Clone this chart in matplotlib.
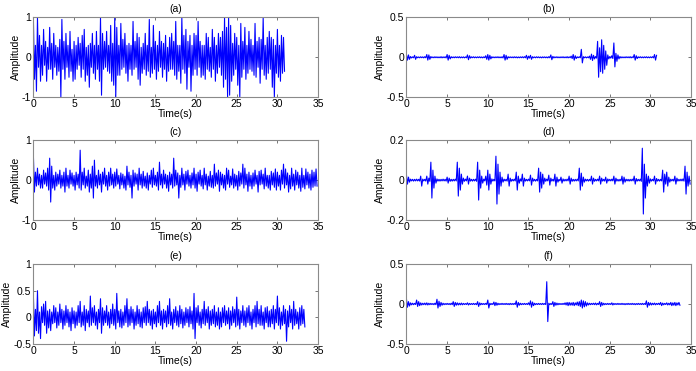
import numpy as np
import matplotlib
matplotlib.use("Agg")
import matplotlib.pyplot as plt

plt.rcParams['font.family'] = ['Liberation Sans', 'DejaVu Sans']

FS = 8  # samples per second of the hand-read peak values

# (a) peak values read every 1/8 s, one row per second
sig_a = [
    [0.95, -0.55, 0.3, -0.85, 1.0, -0.25, 0.55, -0.6],
    [0.3, -0.45, 0.7, -0.2, 0.4, -0.6, 0.25, -0.3],
    [0.75, -0.3, 0.35, -0.55, 0.6, -0.25, 0.3, -0.45],
    [0.25, -0.35, 0.45, -1.0, 0.95, -0.3, 0.4, -0.55],
    [0.6, -0.25, 0.3, -0.5, 0.65, -0.35, 0.2, -0.6],
    [0.4, -0.55, 0.3, -0.3, 0.5, -0.2, 0.35, -0.5],
    [0.55, -0.3, 0.7, -0.6, 0.25, -0.45, 0.3, -0.75],
    [0.35, -0.25, 0.6, -0.4, 0.3, -0.55, 0.65, -0.3],
    [0.3, -0.6, 1.0, -0.95, 0.6, -0.3, 0.4, -0.25],
    [0.65, -0.35, 0.3, -0.4, 0.8, -0.6, 0.35, -0.7],
    [1.0, -1.0, 0.75, -0.45, 0.3, -0.45, 0.85, -0.3],
    [0.45, -0.25, 0.6, -0.4, 0.3, -0.6, 0.35, -0.3],
    [0.3, -0.45, 0.9, -0.3, 0.4, -0.25, 0.6, -0.55],
    [0.5, -0.7, 0.25, -0.4, 0.35, -0.3, 0.6, -0.45],
    [0.3, -0.35, 0.95, -0.5, 0.25, -0.4, 0.8, -0.3],
    [0.4, -0.55, 0.3, -0.35, 0.65, -0.25, 0.4, -0.5],
    [0.35, -0.3, 0.55, -0.6, 0.25, -0.35, 0.5, -0.3],
    [0.6, -0.3, 0.4, -0.45, 0.9, -0.55, 0.3, -0.35],
    [0.3, -0.65, 1.0, -0.3, 0.55, -0.4, 0.7, -0.8],
    [0.4, -0.25, 0.55, -0.85, 0.3, -0.45, 0.6, -0.3],
    [0.55, -0.45, 0.9, -0.25, 0.4, -0.5, 0.3, -0.45],
    [0.3, -0.55, 0.6, -0.3, 0.5, -0.35, 0.25, -0.5],
    [0.7, -0.3, 0.5, -0.6, 0.3, -0.4, 0.6, -0.25],
    [0.5, -0.45, 0.65, -0.75, 1.0, -0.55, 0.75, -1.0],
    [1.0, -0.95, 0.8, -0.6, 0.35, -0.45, 0.6, -0.3],
    [0.5, -0.7, 0.3, -1.0, 0.85, -0.5, 0.4, -0.3],
    [0.75, -0.55, 0.3, -0.4, 0.65, -0.3, 0.45, -0.35],
    [0.3, -0.45, 0.85, -0.5, 0.4, -0.25, 0.5, -0.65],
    [0.45, -0.3, 1.0, -0.45, 0.3, -0.55, 0.5, -0.4],
    [0.65, -0.3, 0.5, -0.75, 0.45, -1.0, 0.3, -0.4],
    [0.7, -0.5, 0.3, -0.6, 0.55, -0.4, 0.5, -0.35],
]

sig_b = [
    [0.035, -0.035, 0.03, -0.025, 0.01, -0.008, 0.006, -0.006],
    [0.025, -0.025, 0.008, -0.006, 0.005, -0.006, 0.007, -0.005],
    [0.006, -0.007, 0.008, -0.006, 0.035, -0.035, 0.03, -0.025],
    [0.01, -0.006, 0.005, -0.006, 0.007, -0.005, 0.006, -0.006],
    [0.005, -0.006, 0.008, -0.007, 0.006, -0.005, 0.007, -0.008],
    [0.035, -0.035, 0.025, -0.02, 0.008, -0.006, 0.005, -0.006],
    [0.007, -0.005, 0.006, -0.006, 0.008, -0.007, 0.005, -0.006],
    [0.006, -0.007, 0.005, -0.006, 0.03, -0.03, 0.02, -0.01],
    [0.006, -0.005, 0.007, -0.006, 0.005, -0.006, 0.006, -0.005],
    [0.007, -0.006, 0.005, -0.007, 0.006, -0.005, 0.02, -0.025],
    [0.035, -0.035, 0.025, -0.02, 0.008, -0.006, 0.005, -0.006],
    [0.006, -0.005, 0.007, -0.006, 0.005, -0.006, 0.007, -0.008],
    [0.035, -0.035, 0.025, -0.025, 0.008, -0.006, 0.006, -0.005],
    [0.005, -0.006, 0.007, -0.005, 0.006, -0.007, 0.005, -0.006],
    [0.006, -0.005, 0.007, -0.006, 0.008, -0.006, 0.025, -0.025],
    [0.015, -0.01, 0.025, -0.025, 0.008, -0.006, 0.005, -0.006],
    [0.007, -0.005, 0.006, -0.006, 0.005, -0.007, 0.006, -0.005],
    [0.006, -0.006, 0.005, -0.007, 0.008, -0.006, 0.03, -0.03],
    [0.012, -0.008, 0.006, -0.005, 0.007, -0.006, 0.005, -0.006],
    [0.006, -0.005, 0.007, -0.006, 0.005, -0.006, 0.008, -0.007],
    [0.006, -0.005, 0.015, -0.015, 0.035, -0.035, 0.02, -0.015],
    [0.006, -0.005, 0.007, -0.006, 0.1, -0.07, 0.008, -0.006],
    [0.006, -0.007, 0.005, -0.006, 0.015, -0.025, 0.04, -0.04],
    [0.025, -0.02, 0.01, -0.01, 0.2, -0.25, 0.12, -0.18],
    [0.22, -0.2, 0.15, -0.15, 0.08, -0.1, 0.03, -0.02],
    [0.01, -0.01, 0.02, -0.015, 0.18, -0.12, 0.05, -0.05],
    [0.03, -0.02, 0.01, -0.008, 0.006, -0.006, 0.005, -0.006],
    [0.007, -0.005, 0.006, -0.006, 0.008, -0.007, 0.006, -0.005],
    [0.035, -0.035, 0.02, -0.015, 0.006, -0.005, 0.007, -0.006],
    [0.005, -0.006, 0.006, -0.005, 0.007, -0.006, 0.005, -0.006],
    [0.006, -0.005, 0.008, -0.007, 0.035, -0.035, 0.025],
]

sig_c = [
    [0.6, -0.3, 0.2, -0.15, 0.3, -0.12, 0.15, -0.2],
    [0.12, -0.2, 0.25, -0.1, 0.18, -0.15, 0.3, -0.25],
    [0.55, -0.55, 0.35, -0.2, 0.12, -0.25, 0.2, -0.15],
    [0.15, -0.1, 0.25, -0.2, 0.12, -0.15, 0.2, -0.3],
    [0.3, -0.15, 0.12, -0.2, 0.25, -0.1, 0.18, -0.15],
    [0.12, -0.25, 0.2, -0.12, 0.15, -0.2, 0.75, -0.25],
    [0.2, -0.12, 0.3, -0.2, 0.1, -0.15, 0.25, -0.3],
    [0.15, -0.2, 0.35, -0.45, 0.5, -0.15, 0.12, -0.2],
    [0.25, -0.12, 0.15, -0.3, 0.2, -0.1, 0.3, -0.15],
    [0.12, -0.25, 0.2, -0.15, 0.3, -0.12, 0.15, -0.2],
    [0.2, -0.15, 0.28, -0.1, 0.12, -0.22, 0.18, -0.12],
    [0.15, -0.2, 0.1, -0.25, 0.35, -0.12, 0.2, -0.18],
    [0.12, -0.45, 0.25, -0.15, 0.18, -0.1, 0.15, -0.25],
    [0.3, -0.12, 0.15, -0.2, 0.22, -0.15, 0.1, -0.2],
    [0.18, -0.25, 0.12, -0.1, 0.25, -0.18, 0.3, -0.12],
    [0.12, -0.15, 0.2, -0.25, 0.45, -0.12, 0.15, -0.2],
    [0.25, -0.1, 0.15, -0.2, 0.12, -0.28, 0.2, -0.12],
    [0.15, -0.2, 0.55, -0.15, 0.25, -0.12, 0.18, -0.45],
    [0.12, -0.18, 0.3, -0.12, 0.15, -0.25, 0.22, -0.1],
    [0.25, -0.15, 0.12, -0.2, 0.18, -0.12, 0.3, -0.2],
    [0.15, -0.28, 0.2, -0.1, 0.25, -0.15, 0.12, -0.22],
    [0.3, -0.12, 0.15, -0.25, 0.1, -0.15, 0.22, -0.18],
    [0.12, -0.2, 0.4, -0.15, 0.18, -0.1, 0.25, -0.28],
    [0.2, -0.12, 0.15, -0.2, 0.12, -0.25, 0.3, -0.1],
    [0.25, -0.18, 0.1, -0.12, 0.28, -0.2, 0.15, -0.15],
    [0.12, -0.25, 0.22, -0.15, 0.18, -0.1, 0.4, -0.2],
    [0.3, -0.12, 0.15, -0.28, 0.2, -0.15, 0.12, -0.22],
    [0.18, -0.15, 0.25, -0.1, 0.12, -0.3, 0.22, -0.12],
    [0.25, -0.1, 0.15, -0.22, 0.3, -0.15, 0.12, -0.2],
    [0.12, -0.25, 0.22, -0.12, 0.18, -0.18, 0.28, -0.25],
    [0.2, -0.15, 0.12, -0.25, 0.25, -0.1, 0.4, -0.2],
    [0.28, -0.12, 0.18, -0.3, 0.12, -0.22, 0.3, -0.15],
    [0.15, -0.25, 0.25, -0.12, 0.2, -0.2, 0.12, -0.28],
    [0.3, -0.18, 0.12, -0.22, 0.28, -0.12, 0.2, -0.2],
    [0.15, -0.25, 0.25, -0.18, 0.2, -0.15, 0.28, -0.15],
]

sig_d = [
    [0.025, -0.02, 0.015, -0.01, 0.005, -0.004, 0.004, -0.005],
    [0.004, -0.004, 0.005, -0.004, 0.004, -0.005, 0.02, -0.03],
    [0.005, -0.004, 0.004, -0.005, 0.02, -0.02, 0.01, -0.006],
    [0.09, -0.09, 0.05, -0.04, 0.02, -0.015, 0.006, -0.005],
    [0.004, -0.005, 0.004, -0.004, 0.005, -0.004, 0.004, -0.005],
    [0.015, -0.015, 0.01, -0.006, 0.004, -0.005, 0.004, -0.004],
    [0.005, -0.004, 0.09, -0.08, 0.06, -0.05, 0.03, -0.02],
    [0.01, -0.006, 0.005, -0.004, 0.02, -0.02, 0.01, -0.005],
    [0.004, -0.005, 0.004, -0.004, 0.005, -0.006, 0.09, -0.1],
    [0.05, -0.04, 0.02, -0.015, 0.005, -0.004, 0.02, -0.025],
    [0.05, -0.05, 0.03, -0.02, 0.006, -0.005, 0.004, -0.004],
    [0.12, -0.12, 0.08, -0.07, 0.04, -0.03, 0.015, -0.01],
    [0.005, -0.004, 0.004, -0.005, 0.03, -0.03, 0.01, -0.006],
    [0.004, -0.004, 0.005, -0.004, 0.04, -0.05, 0.02, -0.015],
    [0.006, -0.005, 0.03, -0.03, 0.01, -0.005, 0.004, -0.004],
    [0.005, -0.004, 0.025, -0.025, 0.01, -0.005, 0.004, -0.005],
    [0.004, -0.004, 0.06, -0.06, 0.04, -0.04, 0.03, -0.02],
    [0.01, -0.006, 0.005, -0.004, 0.025, -0.025, 0.01, -0.005],
    [0.004, -0.005, 0.03, -0.03, 0.015, -0.01, 0.004, -0.004],
    [0.015, -0.015, 0.006, -0.005, 0.004, -0.004, 0.005, -0.004],
    [0.02, -0.02, 0.01, -0.006, 0.004, -0.005, 0.004, -0.004],
    [0.005, -0.004, 0.06, -0.05, 0.035, -0.03, 0.015, -0.01],
    [0.005, -0.004, 0.004, -0.005, 0.004, -0.004, 0.02, -0.02],
    [0.01, -0.006, 0.004, -0.004, 0.005, -0.004, 0.02, -0.02],
    [0.01, -0.005, 0.004, -0.005, 0.015, -0.015, 0.006, -0.004],
    [0.004, -0.004, 0.005, -0.004, 0.02, -0.02, 0.01, -0.005],
    [0.004, -0.005, 0.004, -0.004, 0.02, -0.02, 0.015, -0.01],
    [0.005, -0.004, 0.004, -0.005, 0.004, -0.004, 0.005, -0.004],
    [0.02, -0.02, 0.008, -0.005, 0.004, -0.004, 0.005, -0.006],
    [0.16, -0.17, 0.08, -0.09, 0.03, -0.03, 0.02, -0.015],
    [0.006, -0.005, 0.004, -0.004, 0.02, -0.02, 0.008, -0.005],
    [0.004, -0.005, 0.004, -0.004, 0.05, -0.06, 0.03, -0.02],
    [0.04, -0.03, 0.015, -0.01, 0.005, -0.004, 0.004, -0.005],
    [0.02, -0.02, 0.01, -0.005, 0.004, -0.004, 0.005, -0.004],
    [0.006, -0.005, 0.07, -0.07, 0.04, -0.03, 0.02, -0.02],
]

sig_e = [
    [0.4, -0.35, 0.15, -0.25, 0.5, -0.3, 0.1, -0.4],
    [0.2, -0.1, 0.25, -0.15, 0.3, -0.3, 0.12, -0.2],
    [0.15, -0.25, 0.1, -0.12, 0.22, -0.1, 0.18, -0.2],
    [0.1, -0.15, 0.25, -0.1, 0.15, -0.22, 0.12, -0.15],
    [0.22, -0.1, 0.15, -0.18, 0.1, -0.25, 0.18, -0.12],
    [0.12, -0.2, 0.1, -0.15, 0.22, -0.1, 0.3, -0.18],
    [0.1, -0.15, 0.22, -0.25, 0.15, -0.1, 0.12, -0.18],
    [0.4, -0.15, 0.18, -0.1, 0.22, -0.15, 0.1, -0.22],
    [0.15, -0.1, 0.35, -0.3, 0.18, -0.15, 0.12, -0.1],
    [0.22, -0.15, 0.1, -0.2, 0.15, -0.12, 0.25, -0.15],
    [0.15, -0.22, 0.45, -0.1, 0.12, -0.18, 0.15, -0.2],
    [0.1, -0.15, 0.22, -0.1, 0.35, -0.18, 0.15, -0.15],
    [0.2, -0.1, 0.15, -0.22, 0.1, -0.15, 0.22, -0.12],
    [0.15, -0.18, 0.1, -0.2, 0.18, -0.1, 0.2, -0.15],
    [0.3, -0.1, 0.15, -0.15, 0.12, -0.22, 0.15, -0.12],
    [0.1, -0.18, 0.22, -0.1, 0.3, -0.15, 0.12, -0.22],
    [0.15, -0.1, 0.12, -0.18, 0.22, -0.12, 0.35, -0.15],
    [0.1, -0.22, 0.15, -0.1, 0.2, -0.15, 0.12, -0.18],
    [0.22, -0.12, 0.15, -0.2, 0.1, -0.15, 0.18, -0.1],
    [0.15, -0.18, 0.2, -0.12, 0.12, -0.22, 0.45, -0.4],
    [0.18, -0.1, 0.22, -0.15, 0.1, -0.2, 0.15, -0.12],
    [0.3, -0.15, 0.15, -0.1, 0.2, -0.22, 0.12, -0.15],
    [0.15, -0.12, 0.22, -0.18, 0.1, -0.15, 0.18, -0.22],
    [0.1, -0.18, 0.18, -0.1, 0.22, -0.15, 0.12, -0.12],
    [0.18, -0.22, 0.12, -0.15, 0.2, -0.1, 0.15, -0.18],
    [0.38, -0.15, 0.15, -0.22, 0.12, -0.1, 0.22, -0.15],
    [0.12, -0.18, 0.18, -0.1, 0.22, -0.15, 0.1, -0.22],
    [0.15, -0.1, 0.22, -0.18, 0.3, -0.12, 0.15, -0.15],
    [0.22, -0.15, 0.1, -0.22, 0.18, -0.1, 0.2, -0.18],
    [0.12, -0.18, 0.15, -0.12, 0.22, -0.22, 0.15, -0.1],
    [0.4, -0.15, 0.18, -0.22, 0.1, -0.15, 0.22, -0.12],
    [0.15, -0.45, 0.12, -0.18, 0.22, -0.1, 0.15, -0.22],
    [0.3, -0.15, 0.15, -0.12, 0.1, -0.22, 0.18, -0.15],
    [0.22, -0.12, 0.15, -0.18],
]

sig_f = [
    [0.06, -0.04, 0.03, -0.025, 0.015, -0.01, 0.01, -0.008],
    [0.008, -0.006, 0.05, -0.03, 0.03, -0.02, 0.015, -0.012],
    [0.01, -0.008, 0.012, -0.01, 0.015, -0.012, 0.01, -0.008],
    [0.008, -0.006, 0.006, -0.008, 0.01, -0.008, 0.06, -0.05],
    [0.035, -0.03, 0.02, -0.015, 0.01, -0.008, 0.006, -0.006],
    [0.008, -0.006, 0.006, -0.008, 0.01, -0.008, 0.03, -0.03],
    [0.02, -0.015, 0.015, -0.012, 0.01, -0.01, 0.012, -0.01],
    [0.008, -0.006, 0.006, -0.006, 0.015, -0.012, 0.008, -0.006],
    [0.006, -0.006, 0.008, -0.006, 0.006, -0.008, 0.03, -0.03],
    [0.015, -0.01, 0.008, -0.006, 0.006, -0.006, 0.008, -0.006],
    [0.05, -0.05, 0.01, -0.008, 0.006, -0.006, 0.025, -0.02],
    [0.02, -0.015, 0.01, -0.008, 0.006, -0.006, 0.008, -0.006],
    [0.006, -0.006, 0.008, -0.006, 0.006, -0.008, 0.008, -0.006],
    [0.006, -0.006, 0.008, -0.006, 0.04, -0.04, 0.02, -0.015],
    [0.01, -0.008, 0.006, -0.006, 0.008, -0.006, 0.006, -0.006],
    [0.015, -0.012, 0.04, -0.04, 0.025, -0.02, 0.01, -0.008],
    [0.006, -0.006, 0.008, -0.006, 0.006, -0.006, 0.008, -0.006],
    [0.006, -0.006, 0.28, -0.22, 0.01, -0.008, 0.006, -0.006],
    [0.03, -0.03, 0.02, -0.015, 0.012, -0.01, 0.008, -0.006],
    [0.006, -0.006, 0.008, -0.006, 0.015, -0.012, 0.02, -0.02],
    [0.02, -0.015, 0.015, -0.015, 0.02, -0.02, 0.015, -0.012],
    [0.025, -0.02, 0.03, -0.03, 0.05, -0.05, 0.04, -0.035],
    [0.03, -0.025, 0.015, -0.012, 0.01, -0.008, 0.008, -0.006],
    [0.01, -0.008, 0.012, -0.01, 0.008, -0.006, 0.03, -0.03],
    [0.02, -0.015, 0.01, -0.008, 0.006, -0.006, 0.008, -0.006],
    [0.006, -0.006, 0.015, -0.012, 0.008, -0.006, 0.006, -0.006],
    [0.008, -0.006, 0.006, -0.006, 0.008, -0.006, 0.006, -0.008],
    [0.006, -0.006, 0.008, -0.006, 0.006, -0.006, 0.008, -0.006],
    [0.006, -0.008, 0.006, -0.006, 0.008, -0.006, 0.006, -0.006],
    [0.008, -0.006, 0.006, -0.006, 0.04, -0.04, 0.02, -0.015],
    [0.015, -0.012, 0.01, -0.008, 0.012, -0.01, 0.008, -0.006],
    [0.01, -0.008, 0.02, -0.02, 0.012, -0.01, 0.008, -0.006],
    [0.015, -0.012, 0.01, -0.01, 0.02, -0.02, 0.015, -0.015],
    [0.02, -0.02, 0.015, -0.012, 0.02, -0.015],
]

titles = ["(a)", "(b)", "(c)", "(d)", "(e)", "(f)"]
signals = [sig_a, sig_b, sig_c, sig_d, sig_e, sig_f]
ylims = [(-1, 1), (-0.5, 0.5), (-1, 1), (-0.2, 0.2), (-0.5, 1), (-0.5, 0.5)]
yticks = [[-1, 0, 1], [-0.5, 0, 0.5], [-1, 0, 1], [-0.2, 0, 0.2],
          [-0.5, 0, 0.5, 1], [-0.5, 0, 0.5]]
ytick_labels = [["-1", "0", "1"], ["-0.5", "0", "0.5"], ["-1", "0", "1"],
                ["-0.2", "0", "0.2"], ["-0.5", "0", "0.5", "1"],
                ["-0.5", "0", "0.5"]]
xticks = [0, 5, 10, 15, 20, 25, 30, 35]

fig = plt.figure(figsize=(6.96, 3.71), dpi=100)

lefts = [0.048, 0.584]
bottoms = [0.738, 0.407, 0.073]
w, h = 0.409, 0.215

for i, sig in enumerate(signals):
    ax = fig.add_axes([lefts[i % 2], bottoms[i // 2], w, h])
    y = np.concatenate([np.array(r, dtype=float) for r in sig])
    t = np.arange(len(y)) / FS
    ax.plot(t, y, color="#0000ff", lw=0.8)
    ax.set_xlim(0, 35)
    ax.set_ylim(*ylims[i])
    ax.set_xticks(xticks)
    ax.set_yticks(yticks[i])
    ax.set_yticklabels(ytick_labels[i])
    ax.tick_params(direction="in", length=2.5, width=0.6, labelsize=7.5,
                   pad=1.5, top=True, right=True, colors="#606060",
                   labelcolor="black")
    for s in ax.spines.values():
        s.set_color("#8a8a8a")
        s.set_linewidth(0.8)
    ax.set_title(titles[i], fontsize=7.5, pad=4)
    ax.set_xlabel("Time(s)", fontsize=7.5, labelpad=0)
    ax.set_ylabel("Amplitude", fontsize=7.5, labelpad=1)

fig.savefig("out.png", dpi=100)
